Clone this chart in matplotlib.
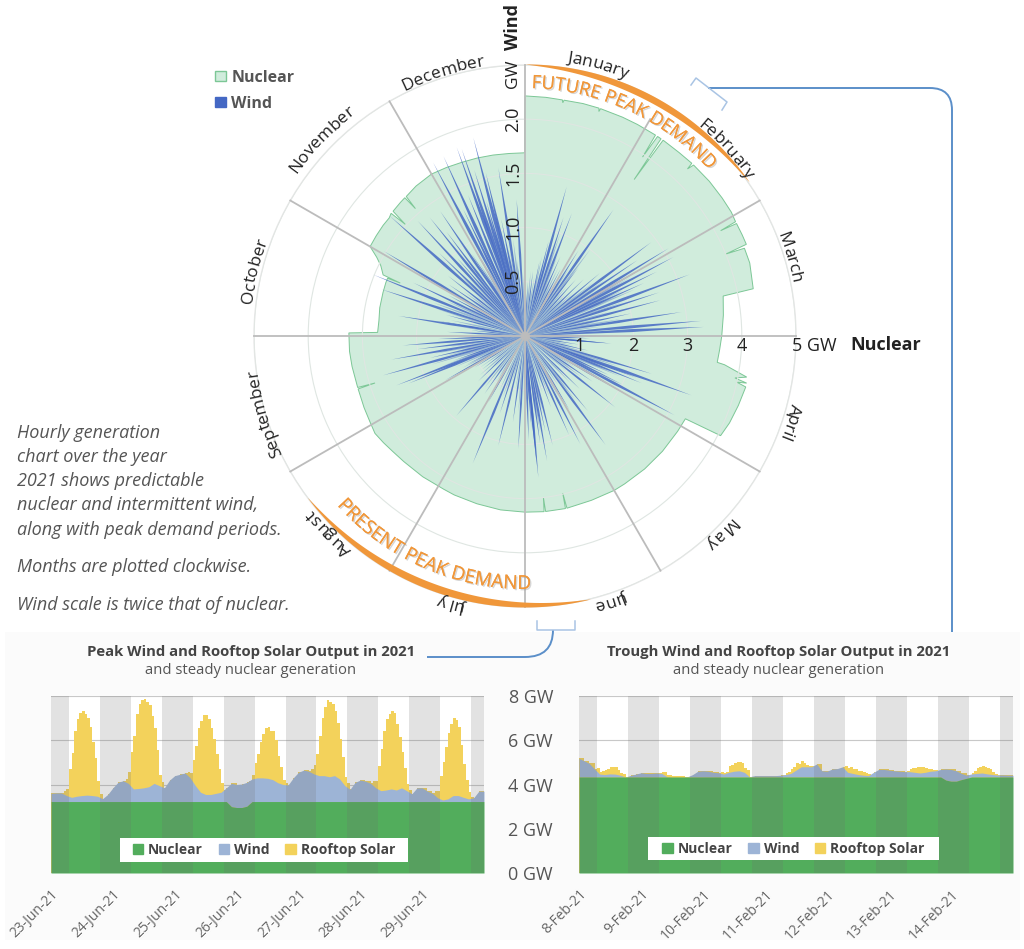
import numpy as np
import matplotlib
matplotlib.use("Agg")
import matplotlib.pyplot as plt
import matplotlib.patheffects as pe
from matplotlib.font_manager import FontProperties
from matplotlib.patches import Patch, PathPatch, Rectangle
from matplotlib.path import Path

plt.rcParams["font.family"] = ["Open Sans", "DejaVu Sans"]

months = ["January", "February", "March", "April", "May", "June", "July",
          "August", "September", "October", "November", "December"]
month_deg = [15, 47, 73.5, 108, 135, 162, 195, 225, 253.5, 283.5, 314, 342.7]

# nuclear outline: angle (deg clockwise from top), GW
nuclear_deg = [0, 5, 9, 9.2, 9.4, 14, 18, 18.2, 18.4, 24, 28, 33, 33.3, 33.6, 34.6, 34.9, 35.2, 35.6,
               40, 44, 44.2, 44.6, 50, 55, 59, 61.5, 61.7, 62.0, 65, 67.5, 67.8, 68.2, 72, 78.3,
               78.6, 84, 90, 94, 97.8, 98.2, 100.5, 101.3, 102, 102.3, 103, 108, 113, 117, 117.3,
               122, 130, 138, 146, 150, 158, 166.3, 166.5, 166.8, 170, 173.3, 173.5, 173.8, 180,
               188, 196, 204, 208, 216, 224, 229, 233, 237, 241, 246, 252.4, 252.6, 252.9, 260,
               265, 271, 271.4, 276, 281, 287, 291, 292.8, 293, 293.3, 296, 298, 300, 304, 308,
               311, 312.5, 313, 313.4, 317, 319, 319.3, 319.6, 324, 330, 335, 340, 345, 350, 355, 359.9]
nuclear_gw = [4.43, 4.42, 4.41, 4.36, 4.41, 4.42, 4.42, 4.36, 4.42, 4.42, 4.42, 4.42, 3.95, 4.42, 4.42, 3.52, 4.42, 4.42,
              4.42, 4.43, 4.3, 4.43, 4.44, 4.44, 4.44, 4.42, 4.1, 4.42, 4.42, 4.42, 4.0, 4.36, 4.36, 4.3,
              3.73, 3.68, 3.63, 3.6, 3.58, 3.72, 4.16, 3.95, 4.18, 4.0, 4.18, 4.14, 4.1, 4.05, 3.33,
              3.32, 3.31, 3.3, 3.29, 3.29, 3.27, 3.27, 2.98, 3.27, 3.26, 3.26, 3.0, 3.26, 3.25,
              3.24, 3.22, 3.21, 3.2, 3.21, 3.22, 3.24, 3.27, 3.3, 3.27, 3.25, 3.23, 2.9, 3.23, 3.24,
              3.25, 3.25, 2.72, 2.71, 2.73, 2.74, 2.75, 2.75, 2.5, 2.85, 2.96, 3.1, 3.3, 3.31, 3.32,
              3.32, 3.35, 3.02, 3.35, 3.37, 3.38, 3.1, 3.38, 3.42, 3.45, 3.43, 3.41, 3.4, 3.39, 3.38, 3.38]

# wind peaks: angle (deg) and tip height (GW on the wind scale)
wind_deg = [345.4, 340.1, 341.3, 335.6, 332.1, 351, 356.5, 325.8, 321.2, 317, 311.6, 301, 295.5, 292,
            288, 279, 279.8, 273, 265.6, 254.5, 260, 249, 247.8, 220.7, 241, 202.3, 193.7, 183.4, 178,
            174.6, 174.8, 170, 165.8, 152.9, 143.5, 128.3, 117.9, 109.6, 106.6, 112, 95, 15.6, 20.9, 35,
            32, 53.4, 58.6, 62, 69.5, 75.2, 81.3, 85.1, 87.1, 90, 95,
            346.5, 343, 338, 334, 330, 327, 323, 319, 314, 308, 304, 298, 285, 276, 268, 263, 257, 251, 244,
            238, 232, 226, 215, 209, 198, 188, 176, 172, 168, 160, 156, 149, 140, 134, 124, 120, 115, 103,
            99, 92, 78, 72, 66, 64, 60, 56, 50, 46, 42, 38, 28, 24, 18, 14, 11, 7, 3, 354, 348.5, 344, 116.5, 110.5]
wind_gw = [1.89, 1.85, 1.82, 1.82, 1.81, 1.57, 1.26, 1.39, 1.40, 1.45, 1.67, 1.52, 1.14, 1.51,
           1.39, 1.18, 0.81, 0.72, 1.13, 1.36, 1.25, 1.27, 1.16, 0.97, 0.84, 1.27, 1.04, 1.04, 0.96,
           1.31, 1.20, 1.17, 1.04, 1.12, 1.25, 1.06, 1.56, 1.63, 1.22, 1.16, 0.8, 1.43, 1.21, 1.42,
           0.93, 1.45, 1.55, 1.55, 1.62, 1.29, 1.46, 1.63, 1.65, 0.88, 0.75,
           1.55, 1.6, 1.4, 1.3, 1.0, 0.9, 1.2, 0.95, 1.1, 0.9, 0.85, 0.8, 0.75, 0.5, 0.8, 1.0, 0.9, 0.7, 0.6,
           0.55, 0.5, 0.6, 0.65, 0.7, 0.75, 0.8, 0.85, 1.0, 0.9, 0.7, 1.0, 0.8, 0.9, 0.7, 0.75, 1.1, 0.85, 0.6,
           0.5, 0.6, 1.0, 1.3, 1.2, 1.35, 1.3, 1.25, 0.9, 0.75, 0.7, 0.8, 0.7, 0.8, 1.15, 0.9, 0.7, 0.6, 0.5, 0.7, 1.1, 1.3, 1.0, 1.1]
# pale low wisps that fill in the middle of the star
wisp_deg = [1, 5, 9, 12, 16, 19, 22, 26, 30, 33, 37, 40, 44, 48, 52, 55, 57, 61, 63, 65, 67, 71, 74, 77, 80, 83, 86,
            89, 93, 97, 101, 105, 108, 113, 118, 122, 126, 130, 136, 142, 146, 151, 155, 158, 163, 167, 171, 177,
            181, 185, 190, 196, 200, 205, 212, 218, 224, 229, 235, 240, 243, 246, 250, 253, 256, 259, 262, 266,
            270, 274, 278, 282, 287, 290, 294, 297, 300, 303, 306, 310, 313, 316, 320, 324, 328, 331, 336, 339,
            342, 347, 350, 353, 358]
wisp_gw = [.5, .6, .55, .75, .9, 1.0, .8, .7, .55, .75, 1.0, .6, .55, .6, .8, .9, .8, 1.1, .85, 1.0, 1.1, .95, .8, .7, .9, .7, .75,
           .55, .5, .4, .45, .6, .9, .95, .6, .55, .65, .5, .6, .75, .55, .65, .5, .6, .55, .7, .9, .6,
           .55, .7, .5, .45, .6, .55, .5, .6, .4, .55, .5, .6, .65, .7, .8, .9, .75, .85, .7, .6,
           .55, .45, .6, .7, .85, .9, .8, .6, .65, .6, .7, .6, .8, .75, .7, .6, .8, .7, .9, .8,
           1.1, 1.0, .8, .9, .6]

nuclear_ticks = [1, 2, 3, 4, 5]
wind_ticks = [0.5, 1.0, 1.5, 2.0]
spoke_deg = [0, 30, 60, 90, 120, 150, 180, 210, 240, 270, 300, 330]
spoke_end = [5, 4.62, 5, 5, 5, 5, 5, 5, 5, 5, 5, 5]

# bottom charts, stacked top of nuclear + wind every 2 hours
jun_days = ["23-Jun-21", "24-Jun-21", "25-Jun-21", "26-Jun-21", "27-Jun-21", "28-Jun-21", "29-Jun-21"]
jun_nuclear = [3.23] * 35 + [3.0, 2.96, 2.96, 3.02] + [3.23] * 45
jun_top = [3.6, 3.62, 3.62, 3.5, 3.42, 3.47, 3.5, 3.52, 3.5, 3.47, 3.36, 3.55,
           3.85, 4.1, 4.17, 4.05, 3.8, 3.82, 3.85, 3.9, 4.05, 3.95, 3.85, 4.2,
           4.4, 4.46, 4.52, 4.3, 3.95, 3.65, 3.55, 3.55, 3.6, 3.65, 3.85, 4.05,
           4.0, 4.02, 4.1, 4.25, 4.3, 4.3, 4.28, 4.22, 4.08, 4.0, 3.98, 4.3,
           4.55, 4.65, 4.6, 4.48, 4.4, 4.4, 4.35, 4.4, 4.25, 3.95, 3.78, 4.1,
           4.2, 4.15, 4.05, 3.85, 3.72, 3.75, 3.8, 3.75, 3.85, 3.72, 3.58, 3.85,
           3.85, 3.7, 3.6, 3.4, 3.3, 3.35, 3.5, 3.5, 3.42, 3.35, 3.4, 3.7]
jun_solar = [0, 0, 0, 0, 0, .1, .3, 1.2, 2.0, 3.0, 3.5, 3.75, 3.8, 3.7, 3.5, 3.1, 2.4, 1.7, .7, .1, 0, 0, 0, 0,
             0, 0, 0, 0, 0, .1, .5, 1.4, 2.4, 3.4, 3.8, 4.0, 4.0, 3.9, 3.7, 3.2, 2.5, 1.5, .5, .15, 0, 0, 0, 0,
             0, 0, 0, 0, 0, .05, .2, .8, 1.8, 2.6, 3.2, 3.5, 3.6, 3.4, 3.0, 2.5, 1.8, 1.1, .4, .1, 0, 0, 0, 0,
             0, 0, 0, 0, 0, .05, .2, .7, 1.1, 1.6, 2.0, 2.25, 2.3, 2.15, 2.2, 1.8, 1.2, .7, .2, .05, 0, 0, 0, 0,
             0, 0, 0, 0, 0, .1, .4, .9, 1.8, 2.6, 3.1, 3.4, 3.4, 3.3, 2.9, 2.4, 1.8, 1.0, .4, .1, 0, 0, 0, 0,
             0, 0, 0, 0, 0, .1, .3, 1.0, 1.9, 2.7, 3.2, 3.45, 3.5, 3.45, 3.0, 2.4, 1.6, .9, .3, .05, 0, 0, 0, 0,
             0, 0, 0, 0, 0, .1, .3, 1.0, 1.7, 2.4, 3.0, 3.4, 3.5, 3.4, 3.1, 2.3, 1.5, .8, .3, .1, 0, 0, 0, 0]

feb_days = ["8-Feb-21", "9-Feb-21", "10-Feb-21", "11-Feb-21", "12-Feb-21", "13-Feb-21", "14-Feb-21"]
feb_nuclear = [4.34] * 71 + [4.2, 4.15, 4.15, 4.22, 4.28] + [4.34] * 8
feb_top = [5.18, 5.07, 4.95, 4.7, 4.47, 4.45, 4.48, 4.47, 4.42, 4.34, 4.41, 4.47,
           4.53, 4.5, 4.5, 4.52, 4.5, 4.36, 4.34, 4.34, 4.34, 4.35, 4.45, 4.6,
           4.62, 4.6, 4.55, 4.53, 4.47, 4.55, 4.6, 4.62, 4.55, 4.35, 4.4, 4.4,
           4.4, 4.4, 4.4, 4.42, 4.45, 4.5, 4.65, 4.8, 4.8, 4.8, 4.93, 4.62,
           4.6, 4.7, 4.72, 4.8, 4.55, 4.5, 4.45, 4.42, 4.4, 4.55, 4.68, 4.68,
           4.65, 4.62, 4.6, 4.58, 4.58, 4.55, 4.52, 4.55, 4.6, 4.62, 4.68, 4.7,
           4.68, 4.62, 4.5, 4.42, 4.48, 4.5, 4.52, 4.48, 4.45, 4.43, 4.43, 4.42]
feb_solar = [0, 0, 0, 0, 0, 0, 0, .03, .1, .15, .2, .25, .32, .3, .3, .2, .12, .05, 0, 0, 0, 0, 0, 0,
             0, 0, 0, 0, 0, 0, 0, .02, .05, .06, .06, .05, .05, .05, .05, .05, .03, .02, 0, 0, 0, 0, 0, 0,
             0, 0, 0, 0, 0, 0, 0, .02, .05, .1, .3, .35, .38, .4, .4, .35, .2, .1, 0, 0, 0, 0, 0, 0,
             0, 0, 0, 0, 0, 0, 0, .03, .08, .1, .2, .3, .3, .28, .25, .15, .1, .05, .02, 0, 0, 0, 0, 0,
             0, 0, 0, 0, 0, 0, 0, .05, .2, .22, .2, .18, .18, .15, .15, .12, .08, .04, 0, 0, 0, 0, 0, 0,
             0, 0, 0, 0, 0, 0, 0, .03, .1, .15, .2, .25, .28, .25, .2, .15, .1, .05, .02, 0, 0, 0, 0, 0,
             0, 0, 0, 0, 0, 0, 0, .03, .06, .15, .25, .3, .3, .28, .25, .2, .1, .03, 0, 0, 0, 0, 0, 0]

text_grey = "#555555"
bold_grey = "#444444"
orange = "#f0973a"
blue_line = "#5b8fc9"
nuclear_light = "#d0ecdc"
nuclear_edge = "#7cc796"
wind_blue = "#4468c4"
green = "#52ad5c"
wind_light = "#9db4d6"
solar = "#f3d25b"

W, H = 1024, 949
CX, CY, RPX = 525, 336, 271

fig = plt.figure(figsize=(W / 100, H / 100), dpi=100, facecolor="white")


def px_rect(x0, y0, x1, y1):
    return [x0 / W, 1 - y1 / H, (x1 - x0) / W, (y1 - y0) / H]


# pale panel behind the two lower charts
bg = fig.add_axes([0, 0, 1, 1], zorder=-2)
bg.set_xlim(0, W)
bg.set_ylim(H, 0)
bg.axis("off")
bg.add_patch(Rectangle((5, 632), 1015, 308, color="#fbfbfb", lw=0))

# polar chart
ax = fig.add_axes(px_rect(CX - RPX, CY - RPX, CX + RPX, CY + RPX), projection="polar", zorder=1)
ax.set_theta_zero_location("N")
ax.set_theta_direction(-1)
ax.set_ylim(0, 5)
ax.set_xticks([])
ax.set_yticks(nuclear_ticks)
ax.set_yticklabels([])
ax.yaxis.grid(True, color="#dfe6e2", lw=0.8)
ax.set_axisbelow(False)
ax.spines["polar"].set_color("#e6e6e6")
ax.spines["polar"].set_linewidth(1)
ax.patch.set_alpha(0)

ax.fill(np.radians(nuclear_deg), nuclear_gw, facecolor=nuclear_light, edgecolor=nuclear_edge, lw=0.7, zorder=1)


def spikes(degs, gws, half_deg, alpha):
    w = np.radians(half_deg)
    for d, g in zip(degs, gws):
        t = np.radians(d)
        tip = g * 2  # wind axis is twice the nuclear one
        ax.fill([t, t - w, t, t + w], [0, tip * 0.6, tip, tip * 0.6],
                facecolor=wind_blue, edgecolor="none", alpha=alpha, zorder=3)


spikes(wisp_deg, wisp_gw, 1.0, 0.4)
spikes(wind_deg, wind_gw, 0.8, 0.85)

for d, end in zip(spoke_deg, spoke_end):
    ax.plot([np.radians(d)] * 2, [0, end], color="#bcbcbc", lw=1.3, zorder=3.5, clip_on=False)
ax.scatter([0], [0], s=30, color="#bcbcbc", zorder=4)

# crescents marking peak demand
arc_a = np.radians(np.linspace(0, 55.5, 100))
ax.fill_between(arc_a, 5.02 - 0.125 * np.sin(np.linspace(0, np.pi, 100)) ** 0.8, 5.02, color=orange, lw=0, zorder=5, clip_on=False)
arc_b = np.radians(np.linspace(166, 233.5, 100))
ax.fill_between(arc_b, 5.0 - 0.135 * np.sin(np.linspace(0, np.pi, 100)) ** 0.8, 5.0, color=orange, lw=0, zorder=5, clip_on=False)


def curved_text(text, start_deg, r_px, size, direction=1, **kw):
    # one text per character, spaced with the renderer's own widths
    fp = FontProperties(family="Open Sans", size=size)
    rend = fig.canvas.get_renderer()
    for i, ch in enumerate(text):
        if ch == " ":
            continue
        w0 = rend.get_text_width_height_descent(text[:i], fp, False)[0] if i else 0
        w1 = rend.get_text_width_height_descent(text[:i + 1], fp, False)[0]
        s = (w0 + w1) / 2
        deg = start_deg + direction * np.degrees(s / r_px)
        rot = -deg if direction == 1 else 180 - deg
        ax.text(np.radians(deg), r_px / RPX * 5, ch, fontproperties=fp, rotation=rot, rotation_mode="anchor",
                ha="center", va="baseline", clip_on=False, zorder=6, **kw)


def centred_curved(text, mid_deg, r_px, size, **kw):
    fp = FontProperties(family="Open Sans", size=size)
    w = fig.canvas.get_renderer().get_text_width_height_descent(text, fp, False)[0]
    curved_text(text, mid_deg - np.degrees(w / 2 / r_px), r_px, size, **kw)


month_r = [277, 272, 272, 274, 274, 274, 273, 274, 270, 275, 280, 273]
for m, d, r in zip(months, month_deg, month_r):
    centred_curved(m, d, r, 12.5, color="#222222")

shadow = [pe.withSimplePatchShadow(offset=(1.0, -1.0), shadow_rgbFace="#999999", alpha=0.4), pe.Normal()]
curved_text("FUTURE PEAK DEMAND", 1.5, 248, 13.3, color=orange, path_effects=shadow)
curved_text("PRESENT PEAK DEMAND", 228, 253, 13.8, direction=-1, color=orange, path_effects=shadow)

# axis labels
for v in nuclear_ticks:
    ax.annotate("5 GW" if v == 5 else str(v), xy=(np.pi / 2, v), xytext=(-3 if v == 5 else 0, -7),
                textcoords="offset points", ha="left" if v == 5 else "center", va="center", fontsize=13,
                color="#222222", annotation_clip=False, zorder=6)
for v in wind_ticks:
    ax.annotate(f"{v:.1f}", xy=(0, v * 2), xytext=(-8.5, 0), textcoords="offset points", ha="center", va="center",
                rotation=90, fontsize=13, color="#222222", annotation_clip=False, zorder=6)

# overlay for free text and connector lines, in pixel coordinates
ov = fig.add_axes([0, 0, 1, 1], zorder=5)
ov.set_xlim(0, W)
ov.set_ylim(H, 0)
ov.axis("off")
ov.patch.set_alpha(0)

ov.text(850, 345, "Nuclear", fontsize=13, fontweight="bold", color="#222222", va="center")
ov.text(513, 74, "GW", fontsize=12.5, rotation=90, color="#222222", ha="center", va="center")
ov.text(513, 27, "Wind", fontsize=13, fontweight="bold", rotation=90, color="#222222", ha="center", va="center")

note_lines = [("Hourly generation", 433), ("chart over the year", 457), ("2021 shows predictable", 481),
              ("nuclear and intermittent wind,", 505), ("along with peak demand periods.", 530),
              ("Months are plotted clockwise.", 567), ("Wind scale is twice that of nuclear.", 605)]
for line, y in note_lines:
    ov.text(17, y, line, fontsize=13, style="italic", color=text_grey, va="center")

line_kw = dict(facecolor="none", edgecolor=blue_line, lw=1.4)
ov.add_patch(PathPatch(Path([(708, 88), (930, 88), (952, 88), (952, 110), (952, 632)],
                            [Path.MOVETO, Path.LINETO, Path.CURVE3, Path.CURVE3, Path.LINETO]), **line_kw))
ov.add_patch(PathPatch(Path([(553, 630), (553, 657), (525, 657), (427, 657)],
                            [Path.MOVETO, Path.CURVE3, Path.CURVE3, Path.LINETO]), **line_kw))
ov.plot([691, 696, 727, 722], [85, 78, 102, 110], color="#a9c4e4", lw=1.1)
ov.plot([537, 537, 575, 575], [621, 630, 630, 621], color="#a9c4e4", lw=1.1)

ax.legend(handles=[Patch(facecolor=nuclear_light, edgecolor=nuclear_edge, label="Nuclear"),
                   Patch(facecolor=wind_blue, edgecolor=wind_blue, label="Wind")],
          loc="upper left", bbox_to_anchor=((209 - (CX - RPX)) / (2 * RPX) - 0.012, 1 - (57 - (CY - RPX)) / (2 * RPX)),
          frameon=False, handlelength=0.65, handleheight=0.65, handletextpad=0.35, labelspacing=0.62,
          prop=dict(family="Open Sans", weight="bold", size=11.5), labelcolor=text_grey, borderpad=0.3)


def stack_chart(rect, nuclear, top, solar_vals, days, title, box):
    a = fig.add_axes(px_rect(*rect), zorder=2)
    hours = np.arange(169)
    two_h = hours[::2]
    # solar is hourly and sits on the wind top held for its 2 hour step
    sol = np.repeat(top, 2) + np.array(solar_vals)
    sol = np.append(sol, sol[-1])
    nuc = np.append(nuclear, nuclear[-1])
    tp = np.append(top, top[-1])
    a.fill_between(hours, 0, sol, step="post", color=solar, lw=0, zorder=1.5)
    a.fill_between(two_h, 0, nuc, color=green, lw=0, zorder=2.1)
    a.fill_between(two_h, nuc, tp, color=wind_light, lw=0, zorder=2)
    # night bands: 7 pm to 7 am
    a.axvspan(0, 7, color="#707070", alpha=0.2, lw=0, zorder=3)
    for d in range(7):
        a.axvspan(19 + 24 * d, min(31 + 24 * d, 168), color="#707070", alpha=0.2, lw=0, zorder=3)
    a.set_xlim(0, 168)
    a.set_ylim(0, 8)
    a.set_yticks([0, 2, 4, 6, 8])
    a.yaxis.grid(True, color="#c8c8c8", lw=0.8, zorder=1)
    a.set_axisbelow(True)
    for s in a.spines.values():
        s.set_visible(False)
    a.tick_params(length=0)
    if title[3]:
        a.set_yticklabels([f"{v} GW" for v in [0, 2, 4, 6, 8]], fontsize=13, color=text_grey)
        a.tick_params(axis="y", pad=18.7)
    else:
        a.set_yticklabels([])
    a.set_xticks(np.arange(7) * 24)
    a.set_xticklabels(days, rotation=45, ha="right", va="top", rotation_mode="anchor", fontsize=10, color="#666666")
    a.tick_params(axis="x", pad=10)
    ov.text(title[2], 652, title[0], fontsize=10.7, fontweight="bold", color=bold_grey, ha="center", va="center")
    ov.text(title[2], 670, title[1], fontsize=10.7, color=text_grey, ha="center", va="center")
    a.add_patch(Rectangle(box[:2], box[2], box[3], transform=a.transAxes, color="white", lw=0, zorder=5))
    leg = a.legend(handles=[Patch(color=green, label="Nuclear"), Patch(color=wind_light, label="Wind"),
                            Patch(color=solar, label="Rooftop Solar")],
                   loc="center", bbox_to_anchor=(box[0] + box[2] / 2, box[1] + box[3] / 2), ncol=3, frameon=False,
                   handlelength=0.75, handleheight=0.75, handletextpad=0.35, columnspacing=1.15,
                   prop=dict(family="Open Sans", weight="bold", size=10), labelcolor=bold_grey)
    leg.set_zorder(6)
    return a


stack_chart((51, 696, 484, 873), jun_nuclear, jun_top, jun_solar, jun_days,
            ("Peak Wind and Rooftop Solar Output in 2021", "and steady nuclear generation", 251, False),
            (0.159, 0.062, 0.665, 0.136))
stack_chart((579, 696, 1013, 873), feb_nuclear, feb_top, feb_solar, feb_days,
            ("Trough Wind and Rooftop Solar Output in 2021", "and steady nuclear generation", 779, True),
            (0.159, 0.073, 0.67, 0.13))

fig.savefig("out.png", dpi=100)
